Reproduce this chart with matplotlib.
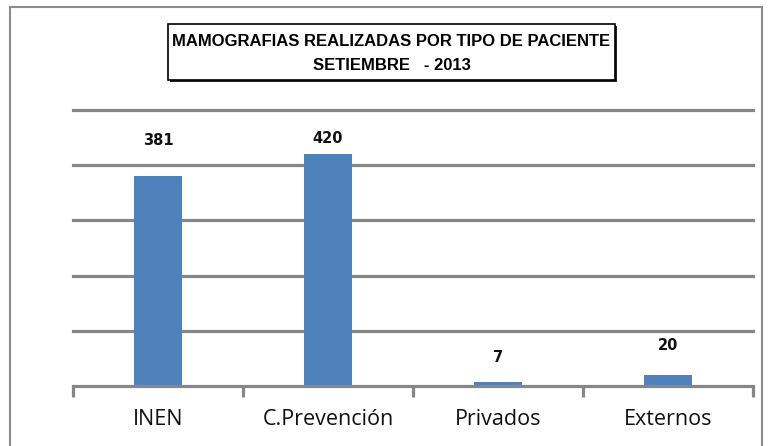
import matplotlib
matplotlib.use("Agg")
import matplotlib.pyplot as plt
from matplotlib import font_manager
from matplotlib.patches import Rectangle
import numpy as np

categories = ["INEN", "C.Prevención", "Privados", "Externos"]
values = [381, 420, 7, 20]
title_lines = ["MAMOGRAFIAS REALIZADAS POR TIPO DE PACIENTE", "SETIEMBRE   - 2013"]

BAR_COLOR = "#4F81BD"
GRID_COLOR = "#868686"
# label offsets above bar tops (points), as in the original sheet
label_offsets = [25, 11.5, 18, 21.5]

# narrow bold font for the title if one is installed
names = {f.name for f in font_manager.fontManager.ttflist}
if "Liberation Sans Narrow" in names:
    title_font = dict(family="Liberation Sans Narrow", fontsize=13.2)
else:
    title_font = dict(family="Liberation Sans", fontsize=12)

fig = plt.figure(figsize=(7.68, 4.46), dpi=100)
ax = fig.add_axes([73 / 768, 1 - 386 / 446, 680 / 768, 276 / 446])

x = np.arange(len(categories))
ax.bar(x, values, width=0.28, color=BAR_COLOR, zorder=3)
ax.set_xlim(-0.5, len(categories) - 0.5)
ax.set_ylim(0, 500)

# gridlines (no y labels)
for gv in range(100, 501, 100):
    ax.axhline(gv, color=GRID_COLOR, linewidth=2.3, zorder=1, clip_on=False)
ax.axhline(0, color=GRID_COLOR, linewidth=2.3, zorder=4, clip_on=False)

for s in ax.spines.values():
    s.set_visible(False)
ax.set_yticks([])

# category boundary ticks below baseline
ax.set_xticks(np.arange(-0.5, len(categories), 1.0))
ax.set_xticklabels([])
ax.tick_params(axis="x", length=8, width=2.3, color=GRID_COLOR, direction="out")
for i, c in enumerate(categories):
    ax.text(i, -60, c, ha="center", va="center", fontsize=15.5,
            family=["Open Sans", "DejaVu Sans"], color="#111111")

# data labels
for i, v in enumerate(values):
    ax.annotate(str(v), (i, v), xytext=(0, label_offsets[i]),
                textcoords="offset points", ha="center", va="center",
                fontsize=10.5, fontweight="bold", family="DejaVu Sans",
                color="#111111")

# outer chart frame
fig.patches.append(Rectangle((10 / 768, -0.02), 752 / 768, 1 - 7 / 446 + 0.02,
                             transform=fig.transFigure, fill=False,
                             edgecolor="#8c8c8c", linewidth=1.5))

# title box
bx0, by0, bx1, by1 = 168, 24, 615, 80
fig.patches.append(Rectangle((bx0 / 768 + 0.003, 1 - by1 / 446 - 0.005),
                             (bx1 - bx0) / 768, (by1 - by0) / 446,
                             transform=fig.transFigure, facecolor="#222222",
                             edgecolor="none", zorder=1))
fig.patches.append(Rectangle((bx0 / 768, 1 - by1 / 446), (bx1 - bx0) / 768,
                             (by1 - by0) / 446, transform=fig.transFigure,
                             facecolor="white", edgecolor="black",
                             linewidth=1.2, zorder=2))
fig.text((bx0 + bx1) / 2 / 768, 1 - 41 / 446, title_lines[0], ha="center",
         va="center", fontweight="bold", zorder=3, **title_font)
fig.text((bx0 + bx1) / 2 / 768, 1 - 65 / 446, title_lines[1], ha="center",
         va="center", fontweight="bold", zorder=3, **title_font)

fig.savefig("out.png", dpi=100)
